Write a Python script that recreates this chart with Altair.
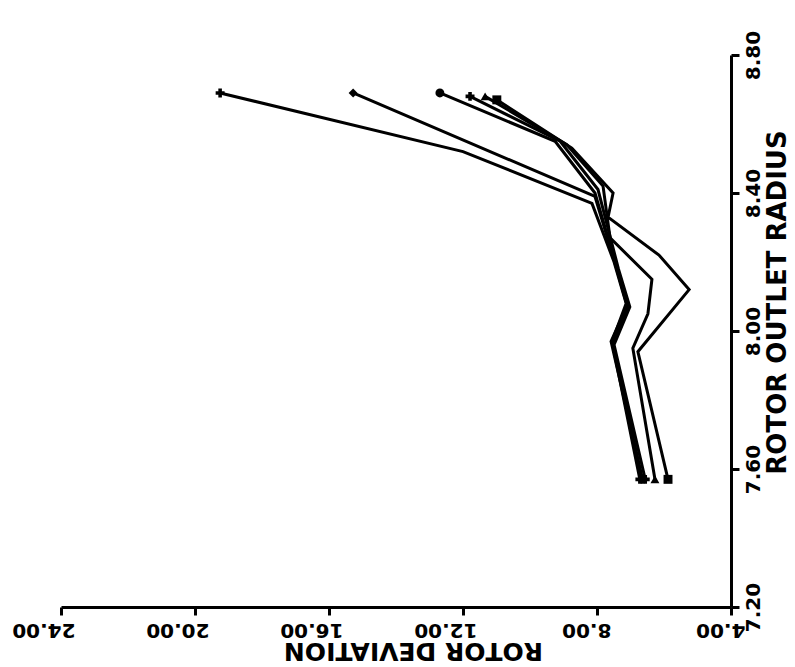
import altair as alt
import pandas as pd

# Rotor deviation (deg) and rotor outlet radius values, one pair of arrays per series
S1_DEV = [19.25, 12.00, 8.15, 7.49, 7.13, 7.55, 6.72]
S1_RAD = [8.69, 8.52, 8.37, 8.20, 8.08, 7.97, 7.57]
S2_DEV = [15.28, 8.06, 7.44, 7.09, 7.52, 6.66]
S2_RAD = [8.69, 8.39, 8.19, 8.07, 7.96, 7.57]
S3_DEV = [12.69, 9.25, 8.06, 7.40, 7.07, 7.58, 6.64]
S3_RAD = [8.69, 8.55, 8.40, 8.18, 8.08, 7.97, 7.57]
S4_DEV = [11.79, 9.10, 7.97, 7.36, 7.02, 7.49, 6.56]
S4_RAD = [8.68, 8.55, 8.41, 8.18, 8.07, 7.96, 7.57]
S5_DEV = [11.34, 8.90, 7.82, 7.61, 6.36, 6.48, 6.93, 6.27]
S5_RAD = [8.68, 8.54, 8.42, 8.27, 8.15, 8.05, 7.95, 7.57]
S6_DEV = [10.99, 8.75, 7.52, 7.67, 6.15, 5.25, 6.78, 5.88]
S6_RAD = [8.67, 8.53, 8.40, 8.33, 8.22, 8.12, 7.94, 7.57]

SERIES = ["S1", "S2", "S3", "S4", "S5", "S6"]
SHAPES = ["cross", "diamond", "circle", "cross", "triangle-up", "square"]

DEV_TICKS = [4, 8, 12, 16, 20, 24]
RAD_TICKS = [7.2, 7.6, 8.0, 8.4, 8.8]

pairs = [(S1_DEV, S1_RAD), (S2_DEV, S2_RAD), (S3_DEV, S3_RAD),
         (S4_DEV, S4_RAD), (S5_DEV, S5_RAD), (S6_DEV, S6_RAD)]

rows = []
ends = []
for name, shape, (dev, rad) in zip(SERIES, SHAPES, pairs):
    for i, (d, r) in enumerate(zip(dev, rad)):
        rows.append({"series": name, "idx": i, "dev": d, "rad": r})
        if i == 0 or i == len(dev) - 1:
            ends.append({"series": name, "shape": shape, "dev": d, "rad": r})

df = pd.DataFrame(rows)
df_end = pd.DataFrame(ends)

FONT = "DejaVu Sans"

x_enc = alt.X(
    "dev:Q",
    scale=alt.Scale(domain=[4, 24], reverse=True, nice=False, zero=False),
    axis=alt.Axis(
        orient="bottom", values=DEV_TICKS, format=".2f", grid=False,
        labelAngle=180, labelAlign="left", labelBaseline="bottom",
        labelOffset=14, labelPadding=4, labelFlush=False, labelOverlap=False,
        labelFont=FONT, labelFontSize=20, labelFontWeight="bold", labelColor="black",
        tickColor="black", tickSize=8, tickWidth=3,
        domainColor="black", domainWidth=3,
        title="ROTOR DEVIATION", titleAngle=180, titleAlign="center",
        titleBaseline="bottom", titleX=352, titleY=30,
        titleFont=FONT, titleFontSize=25, titleFontWeight="bold", titleColor="black",
    ),
)
y_enc = alt.Y(
    "rad:Q",
    scale=alt.Scale(domain=[7.2, 8.8], nice=False, zero=False),
    axis=alt.Axis(
        orient="right", values=RAD_TICKS, format=".2f", grid=False,
        labelAngle=270, labelAlign="center", labelBaseline="top",
        labelPadding=4, labelFlush=False, labelOverlap=False,
        labelFont=FONT, labelFontSize=20, labelFontWeight="bold", labelColor="black",
        tickColor="black", tickSize=8, tickWidth=3,
        domainColor="black", domainWidth=3,
        title="ROTOR OUTLET RADIUS", titleAngle=270, titleAlign="center",
        titleBaseline="top", titleX=33, titleY=247,
        titleFont=FONT, titleFontSize=26, titleFontWeight="bold", titleColor="black",
    ),
)

lines = alt.Chart(df).mark_line(color="black", strokeWidth=3).encode(
    x=x_enc, y=y_enc, detail="series:N", order="idx:Q"
)

points = alt.Chart(df_end).mark_point(filled=True, color="black", size=80, opacity=1).encode(
    x="dev:Q", y="rad:Q",
    shape=alt.Shape("shape:N", scale=None),
)

chart = (lines + points).properties(
    width=670, height=552,
    padding={"left": 61, "top": 55, "right": 64, "bottom": 60},
    autosize=alt.AutoSizeParams(type="none"),
    background="white",
).configure_view(stroke=None)

chart.save("out.html", embed_options={"renderer": "svg", "actions": False})
